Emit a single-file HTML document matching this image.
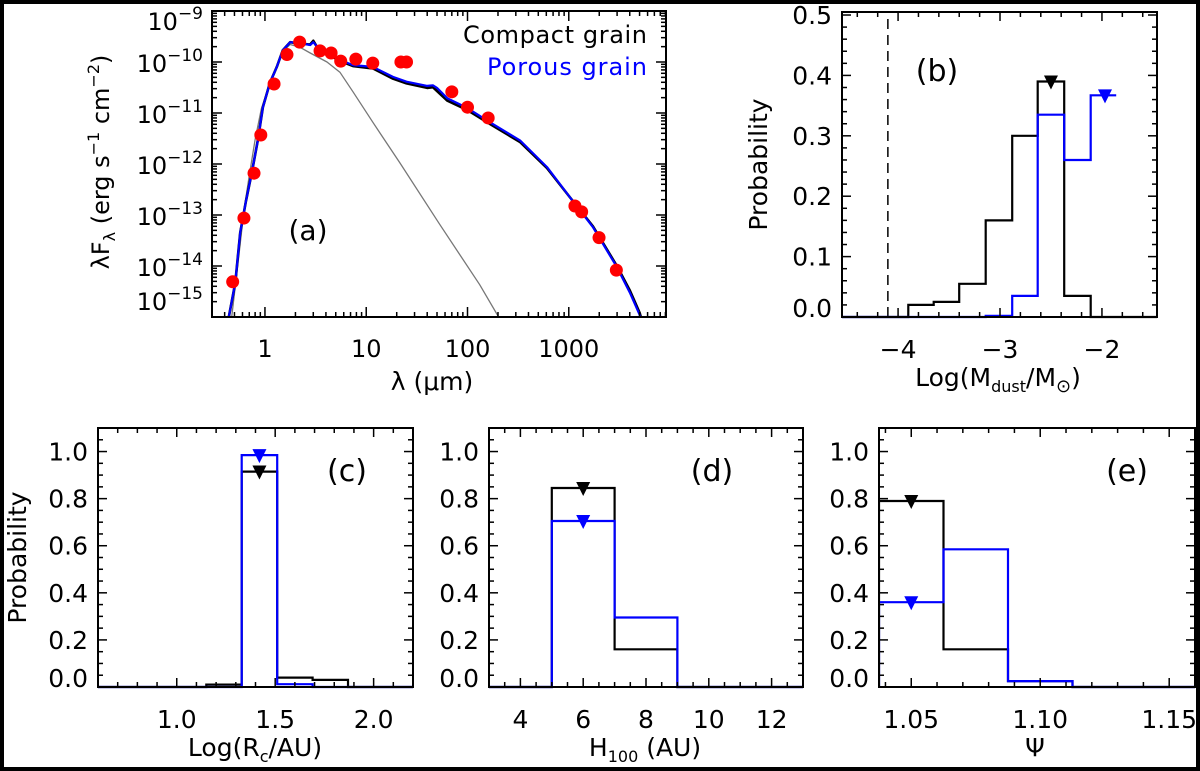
<!DOCTYPE html>
<html><head><meta charset="utf-8"><style>
html,body{margin:0;padding:0;background:#fff}
svg{display:block;font-family:"DejaVu Sans","Liberation Sans",sans-serif}
</style></head><body>
<svg id="fig" width="1200" height="771" viewBox="0 0 1200 771" xmlns="http://www.w3.org/2000/svg">
<rect x="0" y="0" width="1200" height="771" fill="#fff"/>
<rect x="2" y="2" width="1196" height="767" fill="none" stroke="#000" stroke-width="4"/>
</svg>
<script>
// ---------- Panel (a) data ----------
const SED_LAM=[0.48,0.62,0.78,0.91,1.23,1.65,2.2,3.5,4.5,5.6,7.9,11.6,22,25,70,100,160,1150,1340,1990,2950];
const SED_FLUX=[4.9e-15,8.7e-14,6.6e-13,3.7e-12,3.7e-11,1.4e-10,2.45e-10,1.65e-10,1.5e-10,1.04e-10,1.14e-10,9.5e-11,1.0e-10,1.0e-10,2.6e-11,1.3e-11,8e-12,1.5e-13,1.15e-13,3.6e-14,8.3e-15];
const MODEL_LAM=[0.44,0.51,0.57,0.65,0.74,0.85,0.955,1.12,1.31,1.5,1.77,2.2,2.8,3.0,3.3,4.1,5.5,7.4,11.6,18.4,25,40,45.5,50,63,99,166,330,610,1030,1730,2990,4010,5020,5600];
const POROUS_FLUX=[1e-15,4.7e-15,4.5e-14,1.9e-13,6.6e-13,2.9e-12,1.3e-11,3.9e-11,8e-11,1.7e-10,2.45e-10,2.35e-10,2.15e-10,2.45e-10,1.96e-10,1.5e-10,1.1e-10,8.7e-11,8e-11,5.1e-11,4.1e-11,3.4e-11,3.5e-11,3.1e-11,1.95e-11,1.26e-11,6.6e-12,2.9e-12,8.7e-13,2.2e-13,5.8e-14,9.5e-15,3e-15,1.1e-15,5e-16];
const COMPACT_FLUX=[1e-15,4.7e-15,4.5e-14,1.9e-13,6.6e-13,2.9e-12,1.3e-11,3.9e-11,8e-11,1.7e-10,2.45e-10,2.3e-10,2.2e-10,2.6e-10,1.9e-10,1.45e-10,1.05e-10,8.3e-11,7.5e-11,4.7e-11,3.8e-11,3.1e-11,3.2e-11,2.7e-11,1.75e-11,1.15e-11,6.1e-12,2.7e-12,8.3e-13,2.2e-13,6.0e-14,1.0e-14,3.3e-15,1.2e-15,5.5e-16];
const PHOT_LAM=[0.47,0.55,0.62,0.7,0.8,0.92,1.1,1.3,1.5,1.77,2.2,2.8,4.1,5.5,7.4,11.6,21.5,53,132,203];
const PHOT_FLUX=[1e-15,1.5e-14,1.2e-13,6e-13,3e-12,1.2e-11,3.5e-11,8e-11,1.6e-10,2.2e-10,1.96e-10,1.5e-10,1e-10,6.3e-11,2.6e-11,6.6e-12,1.05e-12,6.6e-14,4.3e-15,1e-15];
const A_XTICKS=[1,10,100,1000];
const A_YTICKS=[-15,-14,-13,-12,-11,-10,-9];
// ---------- Histogram data ----------
const B_EDGES=[-3.9,-3.65,-3.4,-3.14,-2.88,-2.63,-2.37,-2.11,-1.86];
const B_COMPACT=[0.02,0.025,0.055,0.16,0.30,0.39,0.035,0];
const B_POROUS=[0,0,0,0.002,0.035,0.335,0.26,0.367];
const B_PEAKS=[-2.5,0.39,-1.97,0.367];
const B_XTICKS=[-4,-3,-2];
const B_YTICKS=[0,0.1,0.2,0.3,0.4,0.5];
const C_EDGES=[1.15,1.33,1.51,1.69,1.87];
const C_COMPACT=[0.01,0.915,0.04,0.03];
const C_POROUS=[0,0.985,0.012,0];
const C_PEAKS=[1.42,0.915,1.42,0.985];
const C_XTICKS=[1.0,1.5,2.0];
const D_EDGES=[5,7,9];
const D_COMPACT=[0.845,0.16];
const D_POROUS=[0.705,0.295];
const D_PEAKS=[6,0.845,6,0.705];
const D_XTICKS=[4,6,8,10,12];
const E_EDGES=[1.0375,1.0625,1.0875,1.1125,1.1375];
const E_COMPACT=[0.79,0.16,0.025,0];
const E_POROUS=[0.36,0.585,0.025,0];
const E_PEAKS=[1.05,0.79,1.05,0.36];
const E_XTICKS=[1.05,1.10,1.15];
const P_YTICKS=[0,0.2,0.4,0.6,0.8,1.0];

const NS="http://www.w3.org/2000/svg";
const svg=document.getElementById('fig');
function mk(tag,attrs,parent){const e=document.createElementNS(NS,tag);for(const k in attrs)e.setAttribute(k,attrs[k]);(parent||svg).appendChild(e);return e;}
function txt(s,x,y,size,anchor,color,parent){const t=mk('text',{x:x,y:y,'font-size':size,'text-anchor':anchor||'middle',fill:color||'#000'},parent);t.textContent=s;return t;}

function frame(g,L,R,T,B){
  const r=mk('rect',{x:L,y:T,width:R-L,height:B-T,fill:'none',stroke:'#000','stroke-width':2},g);
  
  
}
function tickX(g,x,T,B,len){mk('line',{x1:x,x2:x,y1:B,y2:B-len,stroke:'#000','stroke-width':1.5},g);mk('line',{x1:x,x2:x,y1:T,y2:T+len,stroke:'#000','stroke-width':1.5},g);}
function tickY(g,y,L,R,len){mk('line',{x1:L,x2:L+len,y1:y,y2:y,stroke:'#000','stroke-width':1.5},g);mk('line',{x1:R,x2:R-len,y1:y,y2:y,stroke:'#000','stroke-width':1.5},g);}

// ---------- Panel (a) ----------
(function(){
  const L=212,R=666,T=11,B=317, lx0=Math.log10(0.3), lx1=3.96, ly0=-15, ly1=-9;
  const X=v=>L+(Math.log10(v)-lx0)/(lx1-lx0)*(R-L);
  const Y=v=>B-(Math.log10(v)-ly0)/(ly1-ly0)*(B-T);
  const g=mk('g',{});
  
  
  const cp=mk('clipPath',{id:'clipA'},g);
  mk('rect',{x:L,y:T,width:R-L,height:B-T},cp);
  function line(lam,fl,color,w,name){
    const d=lam.map((l,i)=>(i?'L':'M')+X(l).toFixed(1)+' '+Y(fl[i]).toFixed(1)).join(' ');
    const p=mk('path',{d:d,fill:'none',stroke:color,'stroke-width':w,'clip-path':'url(#clipA)','stroke-linejoin':'round'},g);
    
    
  }
  line(PHOT_LAM,PHOT_FLUX,'#777',1.3,'photosphere-line');
  line(MODEL_LAM,COMPACT_FLUX,'#000',2.6,'compact-grain-model');
  line(MODEL_LAM,POROUS_FLUX,'#0000ff',2.2,'porous-grain-model');
  SED_LAM.forEach((l,i)=>{
    const c=mk('circle',{cx:X(l),cy:Y(SED_FLUX[i]),r:6.5,fill:'#ff0000'},g);
    
    
  });
  frame(g,L,R,T,B);
  for(let e=-1;e<=3;e++){for(let m=1;m<=9;m++){const v=m*Math.pow(10,e);if(v<0.3||v>9100)continue;tickX(g,X(v),T,B,m===1?10:5);}}
  for(let e=-15;e<=-10;e++){for(let m=1;m<=9;m++){const v=m*Math.pow(10,e);tickY(g,Y(v),L,R,m===1?10:5);}}
  A_XTICKS.forEach(v=>{const t=txt(String(v),X(v),357,24,'middle','#000',g);});
  A_YTICKS.forEach(e=>{
    let y=B-(e-ly0)/(ly1-ly0)*(B-T)+10; if(e===-15)y=310; if(e===-9)y=30;
    const t=mk('text',{x:203,y:y,'font-size':24,'text-anchor':'end'},g);
    
    
    t.appendChild(document.createTextNode('10'));
    const s=mk('tspan',{dy:-11,'font-size':17},t);s.textContent='\u2212'+Math.abs(e);
  });
  const yt=mk('text',{x:0,y:0,'font-size':24,'text-anchor':'middle',transform:'translate(109,162) rotate(-90)'},g);
  
  
  yt.innerHTML='λF<tspan font-size="16" dy="6">λ</tspan><tspan dy="-6"> (erg s</tspan><tspan font-size="16" dy="-10">−1</tspan><tspan dy="10"> cm</tspan><tspan font-size="16" dy="-10">−2</tspan><tspan dy="10">)</tspan>';
  const xt=mk('text',{x:432,y:390,'font-size':25,'text-anchor':'middle'},g);
  
  
  xt.textContent='λ (μm)';
  const la=txt('(a)',308,240,28,'middle','#000',g);
  const l1=mk('text',{x:463,y:43,'font-size':24,textLength:184,lengthAdjust:'spacing'},g);l1.textContent='Compact grain';
  
  
  const l2=mk('text',{x:487,y:75,'font-size':24,fill:'#0000ff',textLength:160,lengthAdjust:'spacing'},g);l2.textContent='Porous grain';
  
  
})();

// ---------- Histogram panel ----------
function histPanel(o){
  const {L,R,T,B,x0,x1,y0,y1}=o;
  const X=v=>L+(v-x0)/(x1-x0)*(R-L);
  const Y=v=>B-(v-y0)/(y1-y0)*(B-T);
  const g=mk('g',{});
  
  
  const cid='clip'+o.name;
  const cp=mk('clipPath',{id:cid},g);mk('rect',{x:L,y:T-20,width:R-L+60,height:B-T+22},cp);
  if(o.dash!==undefined){
    const dl=mk('line',{x1:X(o.dash),x2:X(o.dash),y1:B,y2:T,stroke:'#000','stroke-width':1.5,'stroke-dasharray':'10,6'},g);
    
    
  }
  function hist(edges,vals,color,closeRight,name){
    let d='M'+L+' '+Y(0)+' L'+X(edges[0])+' '+Y(0);
    vals.forEach((v,i)=>{d+=' L'+X(edges[i]).toFixed(1)+' '+Y(v).toFixed(1)+' L'+X(edges[i+1]).toFixed(1)+' '+Y(v).toFixed(1);});
    if(closeRight)d+=' L'+X(edges[edges.length-1])+' '+Y(0)+' L'+R+' '+Y(0);
    const p=mk('path',{d:d,fill:'none',stroke:color,'stroke-width':2.2,'clip-path':'url(#'+cid+')'},g);
    
    
  }
  hist(o.edges,o.compact,'#000',true,'compact-histogram');
  hist(o.edges,o.porous,'#0000ff',o.closeBlue!==false,'porous-histogram');
  function tri(x,v,color,name){
    const cx=X(x),cy=Y(v);
    const p=mk('path',{d:`M${cx-7} ${cy-6} L${cx+7} ${cy-6} L${cx} ${cy+8} Z`,fill:color},g);
    
    
  }
  tri(o.peaks[0],o.peaks[1],'#000','compact-peak-marker');
  tri(o.peaks[2],o.peaks[3],'#0000ff','porous-peak-marker');
  frame(g,L,R,T,B);
  for(let v=Math.ceil(x0/o.xminor-1e-9)*o.xminor;v<=x1+1e-9;v+=o.xminor){
    const isMaj=Math.abs(v/o.xmajor-Math.round(v/o.xmajor))<1e-6;
    tickX(g,X(v),T,B,isMaj?9:5);
  }
  for(let v=y0;v<=y1+1e-9;v+=o.yminor){
    const isMaj=Math.abs(v/o.ymajor-Math.round(v/o.ymajor))<1e-6;
    tickY(g,Y(v),L,R,isMaj?9:5);
  }
  o.xticks.forEach(v=>{const t=txt(o.xfmt(v),X(v),B+41,25,'middle','#000',g);});
  o.yticks.forEach(v=>{const t=txt(v.toFixed(1),L-10,Y(v)+(v===0?0:9),25,'end','#000',g);});
  if(o.ytitle){
    const yt=mk('text',{'font-size':25,'text-anchor':'middle',transform:`translate(${o.ytx},${(T+B)/2}) rotate(-90)`},g);
    yt.textContent='Probability';
    
    
  }
  const xt=mk('text',{x:o.xtx,y:B+69,'font-size':25,'text-anchor':'middle'},g);
  xt.innerHTML=o.xtitle;
  
  
  const lb=txt(o.label,o.lx,o.ly,30,'middle','#000',g);
  
  
}
const neg=v=>(v<0?'\u2212':'')+Math.abs(v);
histPanel({name:'panel-b-dust-mass',L:842,R:1157,T:12,B:317,x0:-4.55,x1:-1.46,y0:0,y1:0.505,
  edges:B_EDGES,compact:B_COMPACT,porous:B_POROUS,peaks:B_PEAKS,closeBlue:false,dash:-4.1,
  xminor:0.2,xmajor:1,yminor:0.02,ymajor:0.1,xticks:B_XTICKS,yticks:B_YTICKS,xfmt:neg,
  ytitle:true,ytx:767,xtx:998,xtitle:'Log(M<tspan font-size="16" dy="6">dust</tspan><tspan dy="-6">/M</tspan><tspan font-size="18" dy="6">⊙</tspan><tspan dy="-6">)</tspan>',
  label:'(b)',lx:937,ly:81});
histPanel({name:'panel-c-radius',L:98,R:413,T:428,B:687,x0:0.6,x1:2.2,y0:0,y1:1.1,
  edges:C_EDGES,compact:C_COMPACT,porous:C_POROUS,peaks:C_PEAKS,
  xminor:0.1,xmajor:0.5,yminor:0.05,ymajor:0.2,xticks:C_XTICKS,yticks:P_YTICKS,xfmt:v=>v.toFixed(1),
  ytitle:true,ytx:26,xtx:255,xtitle:'Log(R<tspan font-size="16" dy="6">c</tspan><tspan dy="-6">/AU)</tspan>',
  label:'(c)',lx:347,ly:481});
histPanel({name:'panel-d-scale-height',L:489,R:803,T:428,B:687,x0:3,x1:13,y0:0,y1:1.1,
  edges:D_EDGES,compact:D_COMPACT,porous:D_POROUS,peaks:D_PEAKS,
  xminor:0.5,xmajor:2,yminor:0.05,ymajor:0.2,xticks:D_XTICKS,yticks:P_YTICKS,xfmt:v=>String(v),
  ytitle:false,xtx:645,xtitle:'H<tspan font-size="16" dy="6">100</tspan><tspan dy="-6"> (AU)</tspan>',
  label:'(d)',lx:712,ly:481});
histPanel({name:'panel-e-flaring',L:879,R:1195,T:428,B:687,x0:1.0375,x1:1.16,y0:0,y1:1.1,
  edges:E_EDGES,compact:E_COMPACT,porous:E_POROUS,peaks:E_PEAKS,
  xminor:0.01,xmajor:0.05,yminor:0.05,ymajor:0.2,xticks:E_XTICKS,yticks:P_YTICKS,xfmt:v=>v.toFixed(2),
  ytitle:false,xtx:1035,xtitle:'Ψ',
  label:'(e)',lx:1127,ly:481});
</script>
</body></html>
